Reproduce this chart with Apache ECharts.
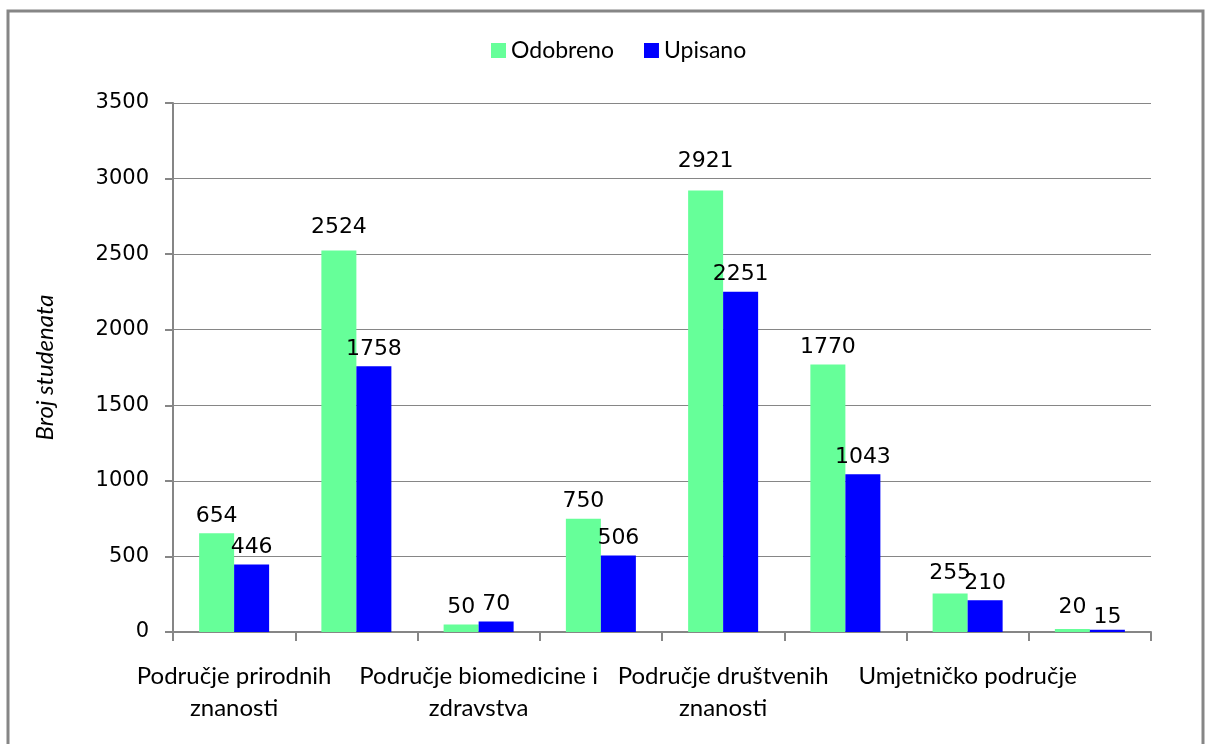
<!DOCTYPE html>
<html>
<head>
<meta charset="utf-8">
<title>Broj studenata</title>
<script src="https://cdn.jsdelivr.net/npm/echarts@6/dist/echarts.min.js"></script>
<style>
  html, body { margin: 0; padding: 0; background: #fff; }
  #chart { width: 1206px; height: 744px; }
</style>
</head>
<body>
<div id="chart"></div>
<script>
// podaci
var categories = [
  'Područje prirodnih\nznanosti',
  'Područje tehničkih\nznanosti',
  'Područje biomedicine i\nzdravstva',
  'Područje biotehničkih\nznanosti',
  'Područje društvenih\nznanosti',
  'Područje humanističkih\nznanosti',
  'Umjetničko područje',
  'Interdisciplinarno\npodručje'
];
var odobreno = [654, 2524, 50, 750, 2921, 1770, 255, 20];
var upisano = [446, 1758, 70, 506, 2251, 1043, 210, 15];
var yTicks = [0, 500, 1000, 1500, 2000, 2500, 3000, 3500];

var chart = echarts.init(document.getElementById('chart'));

var labelStyle = {
  show: true,
  position: 'top',
  distance: 6,
  color: '#000',
  fontFamily: 'DejaVu Sans',
  fontSize: 22
};

// excel je neke oznake stavio malo vise ili nize
function withDist(arr, dist) {
  return arr.map(function (v, i) {
    if (dist[i] !== undefined) return { value: v, label: { distance: dist[i] } };
    return v;
  });
}
var odobrenoData = withDist(odobreno, { 1: 12, 4: 18, 6: 9, 7: 11 });
var upisanoData = withDist(upisano, { 7: 1 });

var option = {
  animation: false,
  backgroundColor: '#fff',
  graphic: [{
    type: 'rect',
    shape: { x: 8, y: 11, width: 1195, height: 760 },
    style: { fill: 'none', stroke: '#868686', lineWidth: 3 },
    silent: true
  }],
  legend: {
    data: ['Odobreno', 'Upisano'],
    left: 486,
    top: 34,
    itemWidth: 15,
    itemHeight: 15,
    itemGap: 30,
    icon: 'rect',
    textStyle: { fontFamily: 'Lato', fontSize: 23, color: '#000', padding: [0, 0, 0, 0] }
  },
  grid: { left: 173, right: 55, top: 103, bottom: 112, containLabel: false },
  xAxis: {
    type: 'category',
    data: categories,
    axisLine: { lineStyle: { color: '#868686', width: 2 } },
    axisTick: { show: true, interval: 0, alignWithLabel: false, length: 9, lineStyle: { color: '#868686', width: 2 } },
    axisLabel: {
      interval: 1,
      margin: 28,
      color: '#000',
      fontFamily: 'Lato',
      fontSize: 24,
      lineHeight: 32,
      align: 'center'
    }
  },
  yAxis: {
    type: 'value',
    min: yTicks[0],
    max: yTicks[yTicks.length - 1],
    interval: 500,
    name: 'Broj studenata',
    nameLocation: 'middle',
    nameGap: 116,
    nameRotate: 90,
    nameTextStyle: { fontFamily: 'Lato', fontStyle: 'italic', fontSize: 24, color: '#000' },
    axisLine: { show: true, lineStyle: { color: '#868686', width: 2 } },
    axisTick: { show: true, length: 8, lineStyle: { color: '#868686', width: 2 } },
    axisLabel: {
      color: '#000', fontFamily: 'DejaVu Sans', fontSize: 21, margin: 24,
      formatter: function (v) { return String(v); }
    },
    splitLine: { lineStyle: { color: '#868686', width: 1 } }
  },
  series: [
    {
      name: 'Odobreno',
      type: 'bar',
      data: odobrenoData,
      barWidth: 35,
      barGap: '0%',
      itemStyle: { color: '#66FF99' },
      label: labelStyle
    },
    {
      name: 'Upisano',
      type: 'bar',
      data: upisanoData,
      barWidth: 35,
      barGap: '0%',
      itemStyle: { color: '#0000FF' },
      label: labelStyle
    }
  ]
};

chart.setOption(option);
</script>
</body>
</html>
